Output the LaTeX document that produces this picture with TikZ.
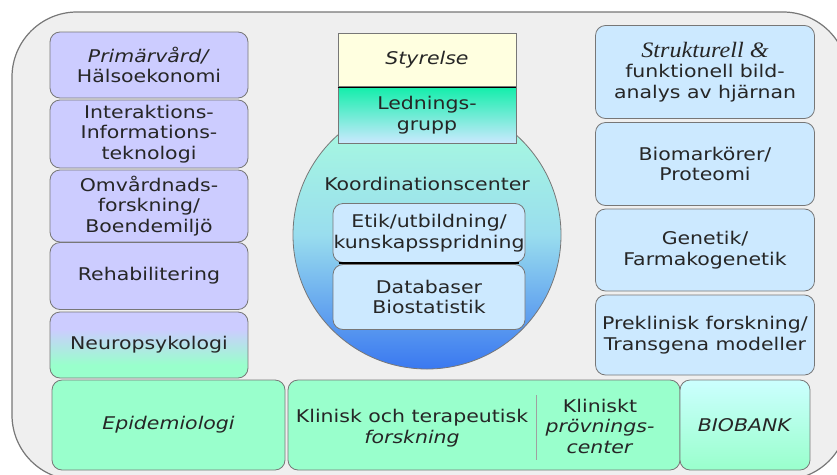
\documentclass[tikz,border=0pt]{standalone}
\usepackage{fontspec}
\setmainfont{DejaVu Sans}[FakeStretch=1.17]
\newfontfamily\serifit{Liberation Serif}[FakeStretch=1.1]
\definecolor{bgc}{HTML}{EFEFEF}
\definecolor{lav}{HTML}{CCCCFF}
\definecolor{mint}{HTML}{99FFCC}
\definecolor{lblue}{HTML}{CCE9FF}
\definecolor{lyel}{HTML}{FFFFE0}
\definecolor{lgreen}{HTML}{11EEAA}
\definecolor{ctop}{HTML}{AAFFDD}
\definecolor{cmid}{HTML}{99DDEE}
\definecolor{cbot}{HTML}{3A78F0}
\definecolor{cyanl}{HTML}{CCFFFF}
\definecolor{edge}{HTML}{777777}
\pgfdeclareverticalshading{neurosh}{100bp}{color(0bp)=(mint); color(35bp)=(mint); color(62bp)=(lav); color(100bp)=(lav)}
\tikzset{
  box/.style={draw=edge, line width=0.8pt, rounded corners=10pt, align=center, inner sep=0pt,
    font=\fontsize{17.5}{20.5}\selectfont, text=black!85},
  lavbox/.style={box, fill=lav},
  mintbox/.style={box, fill=mint},
  bluebox/.style={box, fill=lblue},
  txt/.style={align=center, inner sep=0pt, font=\fontsize{17.5}{20.5}\selectfont, text=black!85},
}
\begin{document}
\begin{tikzpicture}[x=1pt,y=-1pt]
\useasboundingbox (0,0) rectangle (837,474);
\fill[white] (0,0) rectangle (837,474);
\begin{scope}
\clip (0,0) rectangle (837,474);
\draw[edge, line width=1.2pt, fill=bgc, rounded corners=65pt] (12,12) rectangle (848,480);
\end{scope}
% left column
\node[lavbox, minimum width=198pt, minimum height=66pt] (prim) at (149,65) {\textit{Primärvård/}\\Hälsoekonomi};
\node[lavbox, minimum width=198pt, minimum height=68pt] (inter) at (149,134) {Interaktions-\\Informations-\\teknologi};
\node[lavbox, minimum width=198pt, minimum height=72pt] (omv) at (149,206) {Omvårdnads-\\forskning/\\Boendemiljö};
\node[lavbox, minimum width=198pt, minimum height=67pt] (rehab) at (149,276) {Rehabilitering};
\node[box, shading=neurosh, minimum width=198pt, minimum height=66pt] (neuro) at (149,345) {Neuropsykologi};
\node[mintbox, minimum width=233pt, minimum height=90pt] (epi) at (168.5,425) {\textit{Epidemiologi}};
% center
\node[circle, draw=edge, line width=0.8pt, minimum size=268pt, top color=ctop, bottom color=cbot, middle color=cmid, inner sep=0pt] (koord) at (427,235) {};
\node[box, rounded corners=0pt, fill=lyel, minimum width=178pt, minimum height=54pt] (styr) at (427,60) {\textit{Styrelse}};
\node[box, rounded corners=0pt, top color=lgreen, bottom color=lblue, minimum width=178pt, minimum height=57pt] (led) at (427,115) {Lednings-\\grupp};
\draw[black, line width=1.2pt] (styr.south west) -- (styr.south east);
\node[txt] (ktext) at (427,184) {Koordinationscenter};
\node[bluebox, minimum width=192pt, minimum height=59pt] (etik) at (429,233) {Etik/utbildning/\\kunskapsspridning};
\node[bluebox, minimum width=192pt, minimum height=65pt] (db) at (429,297) {Databaser\\Biostatistik};
\draw[black, line width=1.2pt] ([xshift=6pt]etik.south west) -- ([xshift=-6pt]etik.south east);
% right column
\node[bluebox, minimum width=219pt, minimum height=93pt] (strukt) at (705,72) {{\serifit\itshape\fontsize{22}{20.5}\selectfont Strukturell \&}\\funktionell bild-\\analys av hjärnan};
\node[bluebox, minimum width=219pt, minimum height=83pt] (bio) at (705,164) {Biomarkörer/\\Proteomi};
\node[bluebox, minimum width=219pt, minimum height=82pt] (gen) at (705,250) {Genetik/\\Farmakogenetik};
\node[bluebox, minimum width=219pt, minimum height=80pt] (prek) at (705,335) {Preklinisk forskning/\\Transgena modeller};
% bottom
\node[mintbox, minimum width=392pt, minimum height=90pt] (klin) at (484,425) {};
\node[txt] (klintext) at (412,428) {Klinisk och terapeutisk\\\textit{forskning}};
\node[txt] (provtext) at (600,426) {Kliniskt\\\textit{prövnings-}\\\textit{center}};
\coordinate (d1) at (536,395);
\coordinate (d2) at (536,460);
\draw[edge!70, line width=1pt] (d1) -- (d2);
\node[box, top color=cyanl, bottom color=mint, minimum width=130pt, minimum height=90pt] (biob) at (745,425) {\textit{BIOBANK}};
\end{tikzpicture}
\end{document}
